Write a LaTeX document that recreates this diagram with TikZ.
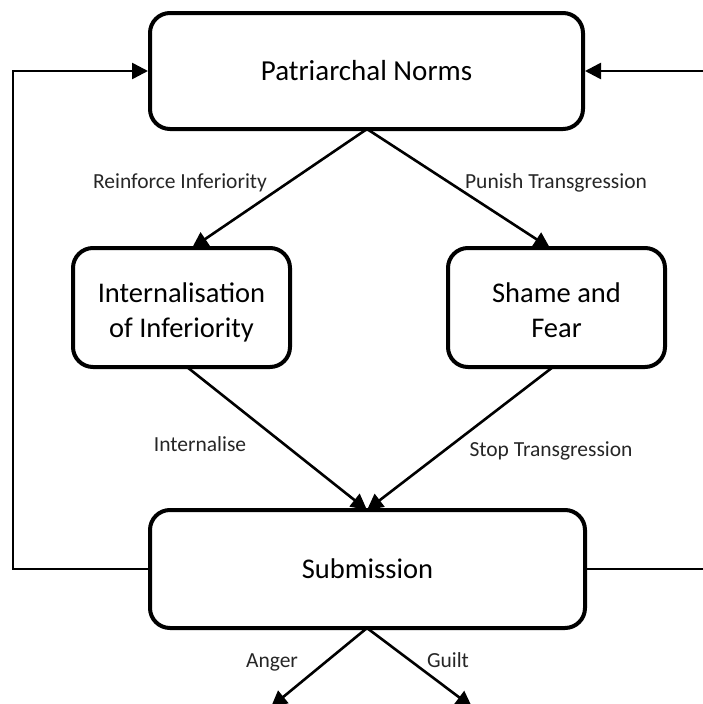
\documentclass[tikz,border=0pt]{standalone}
\usepackage{fontspec}
\setmainfont{Carlito}
\usetikzlibrary{arrows.meta}
\begin{document}
\begin{tikzpicture}[x=1pt,y=-1pt,
  box/.style={draw=black, line width=4pt, rounded corners=20pt, align=center,
    font=\fontsize{28.5}{35}\selectfont, inner sep=0pt},
  twoline/.style={text height=65pt, text depth=6pt},
  conn/.style={draw=black, line width=2.6pt, -{Triangle[length=16pt,width=16pt]}},
  plain/.style={draw=black, line width=2.6pt},
  lbl/.style={font=\fontsize{21.5}{24}\selectfont, text=black!85, inner sep=0pt, anchor=base}]
\useasboundingbox[fill=white] (0,0) rectangle (703,704);
\node[box, font=\fontsize{29}{35}\selectfont, minimum width=433pt, minimum height=116pt] (pn) at (366.5,71) {Patriarchal Norms};
\node[box, twoline, minimum width=217pt, minimum height=119pt] (int) at (181.5,307.5) {Internalisation\\of Inferiority};
\node[box, twoline, minimum width=217pt, minimum height=119pt] (sf) at (556.5,307.5) {Shame and\\Fear};
\node[box, minimum width=435pt, minimum height=118pt] (sub) at (367.5,569) {Submission};
\coordinate (pnb) at (367,129);
\coordinate (intt) at (192,248);
\coordinate (sft) at (550,248);
\coordinate (intb) at (187,367);
\coordinate (sfb) at (553,367);
\coordinate (subt) at (367,510);
\coordinate (subb) at (367,628);
\coordinate (ang) at (271,707);
\coordinate (gui) at (472,707);
\coordinate (l1) at (13,569);
\coordinate (l2) at (13,71);
\coordinate (r1) at (710,569);
\coordinate (r2) at (710,71);
\draw[conn] (pnb) -- (intt);
\draw[conn] (pnb) -- (sft);
\draw[conn] (intb) -- (subt);
\draw[conn] (sfb) -- (subt);
\draw[conn] (subb) -- (ang);
\draw[conn] (subb) -- (gui);
\draw[conn, line join=miter] (sub.west) -- (l1) -- (l2) -- (pn.west);
\draw[plain] (sub.east) -- (r1);
\draw[conn] (r2) -- (pn.east);
\node[lbl] (l-ri) at (180,188) {Reinforce Inferiority};
\node[lbl] (l-pt) at (556,188) {Punish Transgression};
\node[lbl] (l-in) at (200,451) {Internalise};
\node[lbl] (l-st) at (551,456) {Stop Transgression};
\node[lbl] (l-an) at (272,667) {Anger};
\node[lbl] (l-gu) at (448,667) {Guilt};
\end{tikzpicture}
\end{document}
